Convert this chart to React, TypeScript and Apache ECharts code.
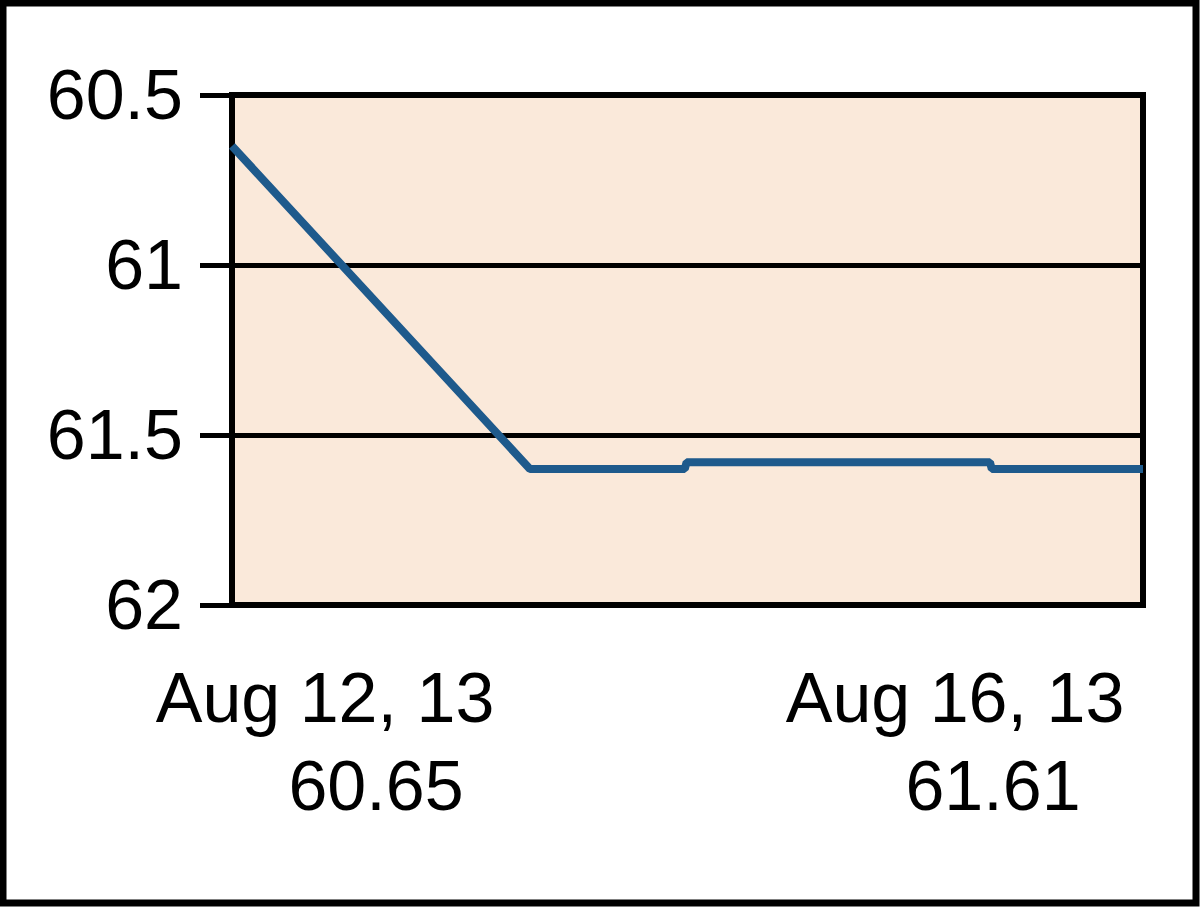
import React, { useEffect, useRef } from "react";
import * as echarts from "echarts";

// time position (percent of the displayed period) and price
const timePos = [0, 32.7, 49.7, 49.9, 83.2, 83.4, 100];
const prices = [60.65, 61.6, 61.6, 61.58, 61.58, 61.6, 61.6];
const yTicks = [60.5, 61, 61.5, 62];
const dateLabels = ["Aug 12, 13", "Aug 16, 13"];
const valueLabels = ["60.65", "61.61"];

const FONT = "'Liberation Sans', Arial, sans-serif";

export default function App() {
  const ref = useRef<HTMLDivElement>(null);
  useEffect(() => {
    document.body.style.margin = "0";
    const chart = echarts.init(ref.current!, null, { renderer: "svg" });
    const labelPos = [
      { d: [325, 698], v: [376, 786] },
      { d: [955, 698], v: [993, 786] },
    ];
    chart.setOption({
      animation: false,
      backgroundColor: "#ffffff",
      grid: {
        left: 232,
        top: 95,
        width: 911,
        height: 510,
        show: true,
        backgroundColor: "#FAE9DA",
        borderColor: "#000000",
        borderWidth: 6,
      },
      xAxis: {
        type: "value",
        min: 0,
        max: 100,
        axisLine: { show: false },
        axisTick: { show: false },
        axisLabel: { show: false },
        splitLine: { show: false },
      },
      yAxis: {
        type: "value",
        inverse: true,
        min: yTicks[0],
        max: yTicks[yTicks.length - 1],
        interval: 0.5,
        axisLine: { show: true, lineStyle: { color: "#000", width: 6 } },
        axisTick: { show: true, length: 32, lineStyle: { color: "#000", width: 5 } },
        axisLabel: {
          color: "#000",
          fontSize: 70,
          fontFamily: FONT,
          margin: 49,
          formatter: (v: number) => String(v),
        },
        splitLine: { show: true, lineStyle: { color: "#000", width: 5 } },
      },
      series: [
        {
          type: "line",
          data: timePos.map((t, i) => [t, prices[i]]),
          symbol: "none",
          lineStyle: { color: "#1E5A8C", width: 8 },
        },
      ],
      graphic: [
        {
          type: "rect",
          shape: { x: 3, y: 3, width: 1193, height: 900 },
          style: { fill: "none", stroke: "#000", lineWidth: 7 },
        },
        ...dateLabels.map((t, i) => ({
          type: "text",
          x: labelPos[i].d[0],
          y: labelPos[i].d[1],
          style: {
            text: t,
            fontSize: 70,
            fontFamily: FONT,
            fill: "#000",
            align: "center",
            verticalAlign: "middle",
          },
        })),
        ...valueLabels.map((t, i) => ({
          type: "text",
          x: labelPos[i].v[0],
          y: labelPos[i].v[1],
          style: {
            text: t,
            fontSize: 70,
            fontFamily: FONT,
            fill: "#000",
            align: "center",
            verticalAlign: "middle",
          },
        })),
      ],
    });
    return () => chart.dispose();
  }, []);
  return <div ref={ref} style={{ width: 1200, height: 908 }} />;
}
